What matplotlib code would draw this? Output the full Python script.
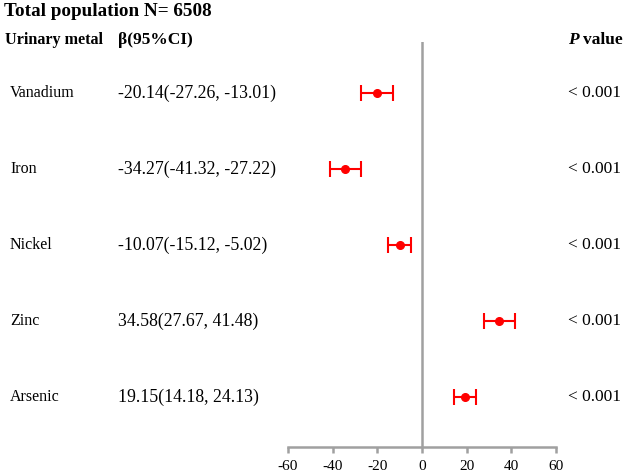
import matplotlib.pyplot as plt
import matplotlib.transforms as mtransforms

metals = ["Vanadium", "Iron", "Nickel", "Zinc", "Arsenic"]
beta = [-20.14, -34.27, -10.07, 34.58, 19.15]
lower = [-27.26, -41.32, -15.12, 27.67, 14.18]
upper = [-13.01, -27.22, -5.02, 41.48, 24.13]
p_values = ["< 0.001", "< 0.001", "< 0.001", "< 0.001", "< 0.001"]
xticks = [-60, -40, -20, 0, 20, 40, 60]

plt.rcParams['font.family'] = ['Liberation Serif', 'DejaVu Serif']

W, H = 624, 473
fig = plt.figure(figsize=(W / 100, H / 100), dpi=100)
ax = fig.add_axes([288 / W, (H - 447) / H, (556 - 288) / W, (447 - 42) / H])

ypos = [5, 4, 3, 2, 1]
xerr = [[b - l for b, l in zip(beta, lower)], [u - b for b, u in zip(beta, upper)]]
ax.errorbar(beta, ypos, xerr=xerr, fmt='o', color='#ff0000', ms=5.5,
            elinewidth=1.5, capsize=5.5, capthick=1.5, zorder=3)
ax.axvline(0, color='#a0a0a0', lw=1.8, zorder=1)

ax.set_xlim(-60, 60)
ax.set_ylim(1 - 50 / 76, 5 + 51 / 76)
for s in ['top', 'right', 'left']:
    ax.spines[s].set_visible(False)
ax.spines['bottom'].set_color('#a0a0a0')
ax.spines['bottom'].set_linewidth(1.8)
ax.set_yticks([])
ax.set_xticks(xticks)
ax.set_xticklabels([str(t) for t in xticks])
ax.tick_params(axis='x', colors='#a0a0a0', width=1.8, length=4.5, labelsize=11,
               labelcolor='black', pad=5)

tr = mtransforms.blended_transform_factory(fig.transFigure, ax.transData)
for y, name, b, l, u, p in zip(ypos, metals, beta, lower, upper, p_values):
    ax.text(10 / W, y, name, transform=tr, va='center', ha='left', fontsize=11.5)
    ax.text(118 / W, y, f"{b:.2f}({l:.2f}, {u:.2f})", transform=tr,
            va='center', ha='left', fontsize=12.8)
    ax.text(568 / W, y, p, transform=tr, va='center', ha='left', fontsize=12.5)

fig.text(4 / W, 1 - 11 / H, "Total population N= 6508", fontsize=13.8,
         fontweight='bold', va='center', ha='left')
fig.text(5 / W, 1 - 40 / H, "Urinary metal", fontsize=11.6,
         fontweight='bold', va='center', ha='left')
fig.text(118 / W, 1 - 40 / H, "β(95%CI)", fontsize=12.5,
         fontweight='bold', va='center', ha='left')
fig.text(568 / W, 1 - 40 / H, "P", fontsize=12.5, fontweight='bold',
         fontstyle='italic', va='center', ha='left')
fig.text(583 / W, 1 - 40 / H, "value", fontsize=12.5, fontweight='bold',
         va='center', ha='left')

fig.savefig("out.png", dpi=100)
